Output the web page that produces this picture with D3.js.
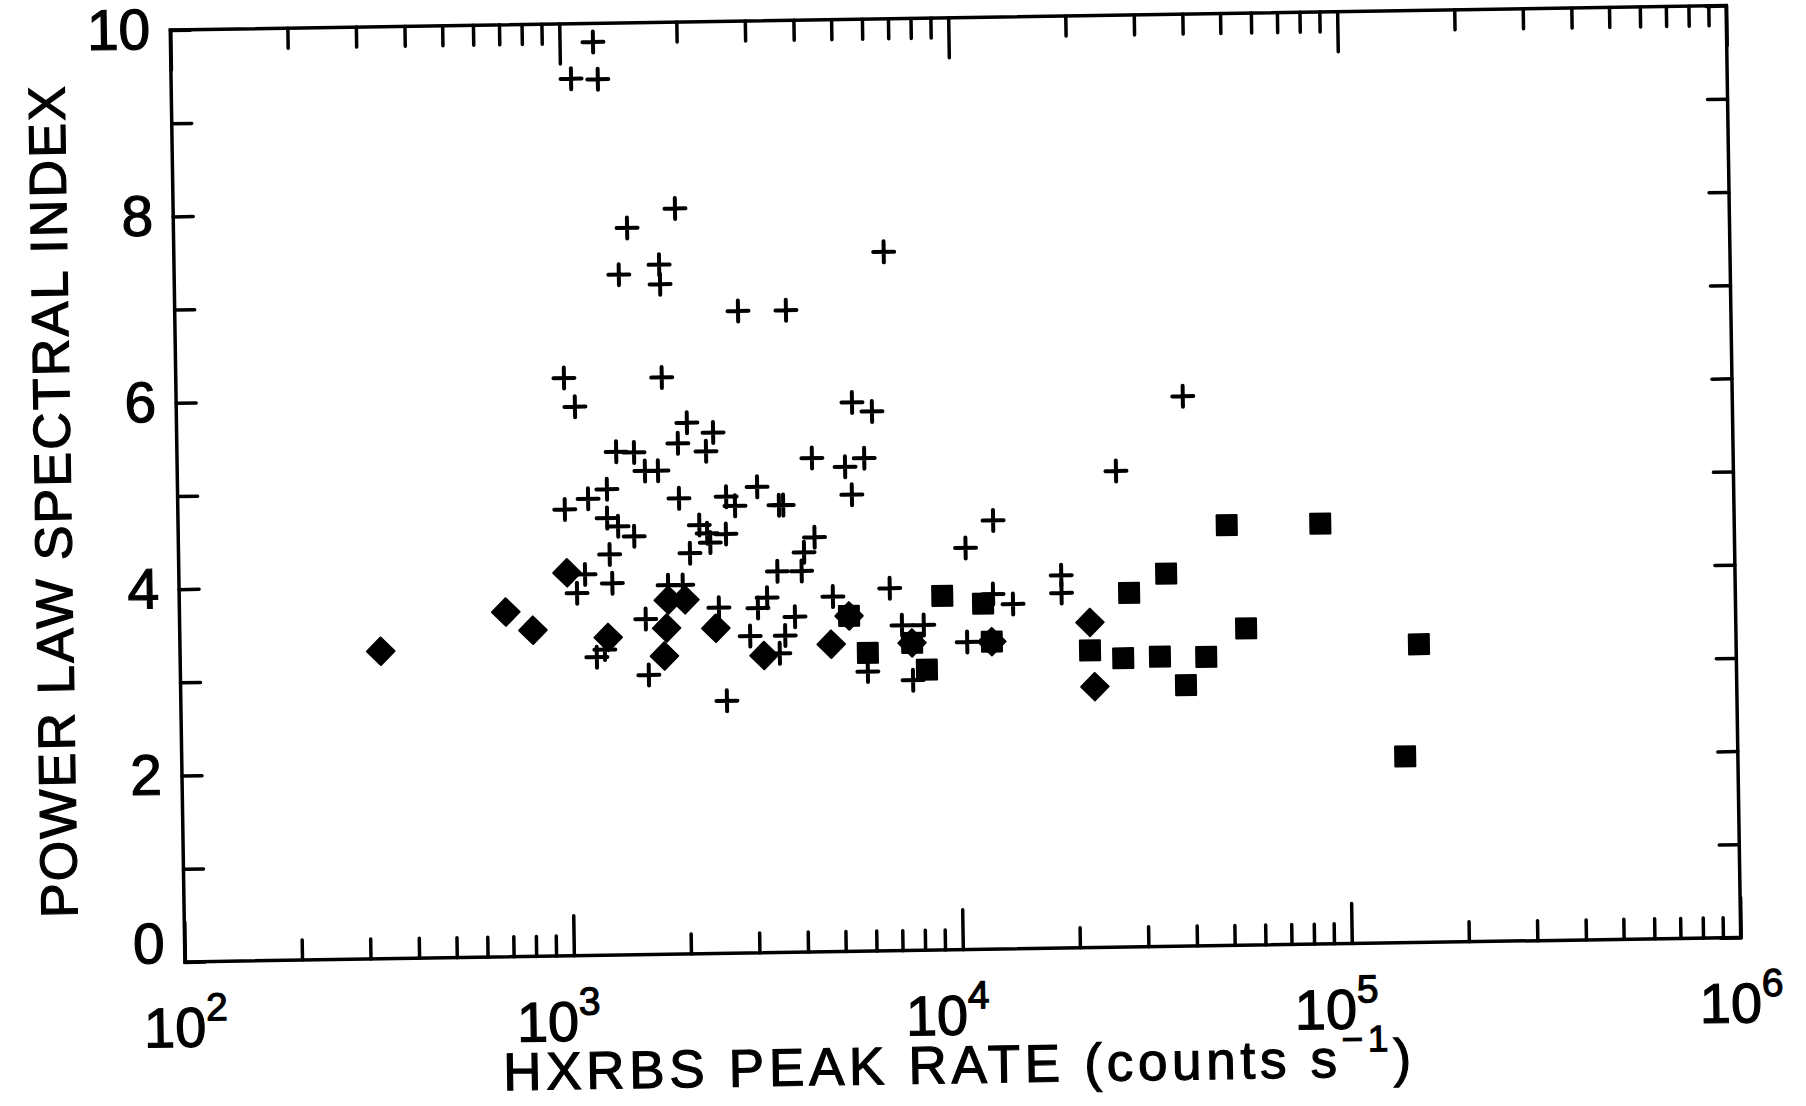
<!DOCTYPE html>
<html>
<head>
<meta charset="utf-8">
<script src="https://cdn.jsdelivr.net/npm/d3@7"></script>
<style>
  body { margin: 0; background: #fff; }
  text { font-family: "Liberation Sans", Arial, sans-serif; fill: #000; stroke: #000; stroke-width: 1.2px; }
</style>
</head>
<body>
<svg id="chart"></svg>
<script>
// Values (peak rate in counts/s, spectral index)
const plusRate = [1219, 1067, 1250, 1950, 1466, 1390, 1766, 1773, 2805, 3725,
  6680, 995, 1059, 1775, 5460, 6140, 38700, 2051, 2393, 1941,
  2291, 1346, 1496, 1593, 1721, 1270, 1135, 988, 1944, 2570,
  2706, 1268, 1352, 1486, 1283, 2187, 2289, 2558, 2330, 2064,
  1107, 1054, 1300, 1808, 1972, 1579, 1600, 2437, 2534, 1178,
  1236, 4285, 5210, 5840, 5410, 3090, 3510, 3600, 4320, 4055,
  3457, 3990, 12450, 10550, 6710, 18540, 18540, 12360, 13900, 3245,
  3070, 3820, 2925, 3600, 3480, 4790, 5850, 7190, 8180, 7640,
  10560, 25880];
const plusIndex = [9.80, 9.41, 9.40, 8.00, 7.80, 7.30, 7.40, 7.19, 6.89, 6.89,
  7.50, 6.20, 5.89, 6.19, 5.89, 5.79, 5.90, 5.70, 5.59, 5.48,
  5.39, 5.40, 5.39, 5.19, 5.19, 5.00, 4.90, 4.79, 4.89, 4.90,
  4.80, 4.69, 4.60, 4.49, 4.30, 4.60, 4.51, 4.50, 4.41, 4.30,
  4.09, 3.89, 3.99, 3.96, 3.96, 3.60, 3.00, 3.71, 2.71, 3.20,
  3.28, 5.30, 5.20, 5.29, 4.90, 5.00, 4.80, 4.80, 4.45, 4.29,
  4.09, 4.09, 4.60, 4.31, 3.89, 4.00, 3.81, 3.81, 3.70, 3.81,
  3.70, 3.60, 3.40, 3.40, 3.21, 3.81, 3.00, 3.49, 3.49, 2.90,
  3.30, 5.11];

const diamondRate = [328, 690, 809, 995, 1262, 1807, 1995, 1785, 1758, 2389,
  3170, 4720, 5260, 7620, 12220, 21880, 22390];
const diamondIndex = [3.30, 3.70, 3.50, 4.11, 3.41, 3.80, 3.80, 3.50, 3.20, 3.49,
  3.19, 3.30, 3.60, 3.30, 3.30, 3.49, 2.80];

const squareRate = [5860, 5260, 7620, 8300, 9150, 11640, 12220, 21830, 26550, 33000,
  43400, 38400, 27660, 34500, 49600, 86300, 55100, 153000, 139600];
const squareIndex = [3.20, 3.60, 3.30, 3.01, 3.80, 3.71, 3.30, 3.19, 3.10, 3.11,
  3.10, 2.80, 3.80, 4.00, 4.51, 4.51, 3.40, 3.20, 2.00];

// Axis ticks
const xDecades = [2, 3, 4, 5, 6];
const yTicks = [0, 1, 2, 3, 4, 5, 6, 7, 8, 9, 10];
const yLabels = [0, 2, 4, 6, 8, 10];

const width = 1806;
const height = 1106;
const margin = { top: 17.75, right: 72.5, bottom: 156.25, left: 177.5 };
const innerWidth = width - margin.left - margin.right;
const innerHeight = height - margin.top - margin.bottom;

// the scan is tilted a little, so the whole plot is turned about the frame centre
const tilt = -0.9;
const cx = margin.left + innerWidth / 2;
const cy = margin.top + innerHeight / 2;

const x = d3.scaleLog().domain([1e2, 1e6]).range([margin.left, margin.left + innerWidth]);
const y = d3.scaleLinear().domain([0, 10]).range([margin.top + innerHeight, margin.top]);

const svg = d3.select("#chart").attr("width", width).attr("height", height);

const chart = svg.append("g").attr("transform", `rotate(${tilt}, ${cx}, ${cy})`);

// minor and major tick positions along the log axis
const majorTicks = xDecades.map((d) => Math.pow(10, d));
const minorTicks = [];
majorTicks.slice(0, -1).forEach(function (base) {
  for (let k = 2; k <= 9; k++) minorTicks.push(base * k);
});

function styleTicks(g) {
  g.select(".domain").remove();
  g.selectAll("text").filter(function () { return this.textContent === ""; }).remove();
  g.selectAll("line").attr("stroke", "#000").attr("stroke-width", 3.5).attr("stroke-linecap", "round");
}

// bottom and top ticks point into the frame
[
  [d3.axisBottom, margin.top + innerHeight],
  [d3.axisTop, margin.top],
].forEach(function ([axisFn, ty]) {
  chart.append("g")
    .attr("transform", `translate(0,${ty})`)
    .call(axisFn(x).tickValues(minorTicks).tickSize(-20).tickFormat(""))
    .call(styleTicks);
  chart.append("g")
    .attr("transform", `translate(0,${ty})`)
    .call(axisFn(x).tickValues(majorTicks).tickSize(-40).tickFormat(""))
    .call(styleTicks);
});

// left axis with labels on even values
const yAxisLeft = chart.append("g")
  .attr("transform", `translate(${margin.left},0)`)
  .call(
    d3.axisLeft(y)
      .tickValues(yTicks)
      .tickSize(-20)
      .tickPadding(20)
      .tickFormat((d) => (yLabels.includes(d) ? d : ""))
  )
  .call(styleTicks);

yAxisLeft.attr("font-size", null).attr("font-family", null);
yAxisLeft.selectAll("text")
  .style("font-size", "57px")
  .attr("fill", "#000")
  .attr("y", (d) => (d === 0 ? -18 : 0));

chart.append("g")
  .attr("transform", `translate(${margin.left + innerWidth},0)`)
  .call(d3.axisRight(y).tickValues(yTicks).tickSize(-20).tickFormat(""))
  .call(styleTicks);

// frame
chart.append("rect")
  .attr("x", margin.left)
  .attr("y", margin.top)
  .attr("width", innerWidth)
  .attr("height", innerHeight)
  .attr("fill", "none")
  .attr("stroke", "#000")
  .attr("stroke-width", 3.5);

// x tick labels as powers of ten; the inner ones sit a bit left of their tick
chart.selectAll(".xlabel")
  .data(xDecades)
  .join("text")
  .attr("class", "xlabel")
  .attr("x", (d, i) => x(Math.pow(10, d)) + (i > 0 && i < xDecades.length - 1 ? -16 : 0))
  .attr("y", margin.top + innerHeight + 85)
  .attr("text-anchor", "middle")
  .style("font-size", "56px")
  .each(function (d) {
    const t = d3.select(this);
    t.append("tspan").text("10");
    t.append("tspan").attr("dy", -26).style("font-size", "39px").text(d);
  });

// axis titles
chart.append("text")
  .attr("transform", "translate(70.7, 488) rotate(-90)")
  .attr("text-anchor", "middle")
  .attr("textLength", 832)
  .attr("lengthAdjust", "spacing")
  .style("font-size", "52px")
  .text("POWER LAW SPECTRAL INDEX");

const xTitle = chart.append("text")
  .attr("x", 494)
  .attr("y", 1083)
  .attr("textLength", 908)
  .attr("lengthAdjust", "spacing")
  .style("font-size", "53px");
xTitle.append("tspan").text("HXRBS PEAK RATE (counts s");
xTitle.append("tspan").attr("dy", -25).style("font-size", "37px").text("\u22121");
xTitle.append("tspan").attr("dy", 25).text(")");

// markers
const toPoints = (rates, idx) => rates.map((r, i) => ({ rate: r, index: idx[i] }));
const plusPoints = toPoints(plusRate, plusIndex);
const diamondPoints = toPoints(diamondRate, diamondIndex);
const squarePoints = toPoints(squareRate, squareIndex);

chart.append("g")
  .selectAll("path")
  .data(squarePoints)
  .join("path")
  .attr("d", d3.symbol().type(d3.symbolSquare).size(400))
  .attr("transform", (d) => `translate(${x(d.rate)},${y(d.index)})`)
  .attr("fill", "#000")
  .attr("stroke", "#000")
  .attr("stroke-width", 2)
  .attr("stroke-linejoin", "round");

chart.append("g")
  .selectAll("path")
  .data(diamondPoints)
  .join("path")
  .attr("d", d3.symbol().type(d3.symbolSquare).size(380))
  .attr("transform", (d) => `translate(${x(d.rate)},${y(d.index)}) rotate(45)`)
  .attr("fill", "#000")
  .attr("stroke", "#000")
  .attr("stroke-width", 2)
  .attr("stroke-linejoin", "round");

chart.append("g")
  .selectAll("path")
  .data(plusPoints)
  .join("path")
  .attr("d", "M-10.5,0H10.5M0,-10.5V10.5")
  .attr("transform", (d) => `translate(${x(d.rate)},${y(d.index)})`)
  .attr("fill", "none")
  .attr("stroke", "#000")
  .attr("stroke-width", 4)
  .attr("stroke-linecap", "round");
</script>
</body>
</html>
